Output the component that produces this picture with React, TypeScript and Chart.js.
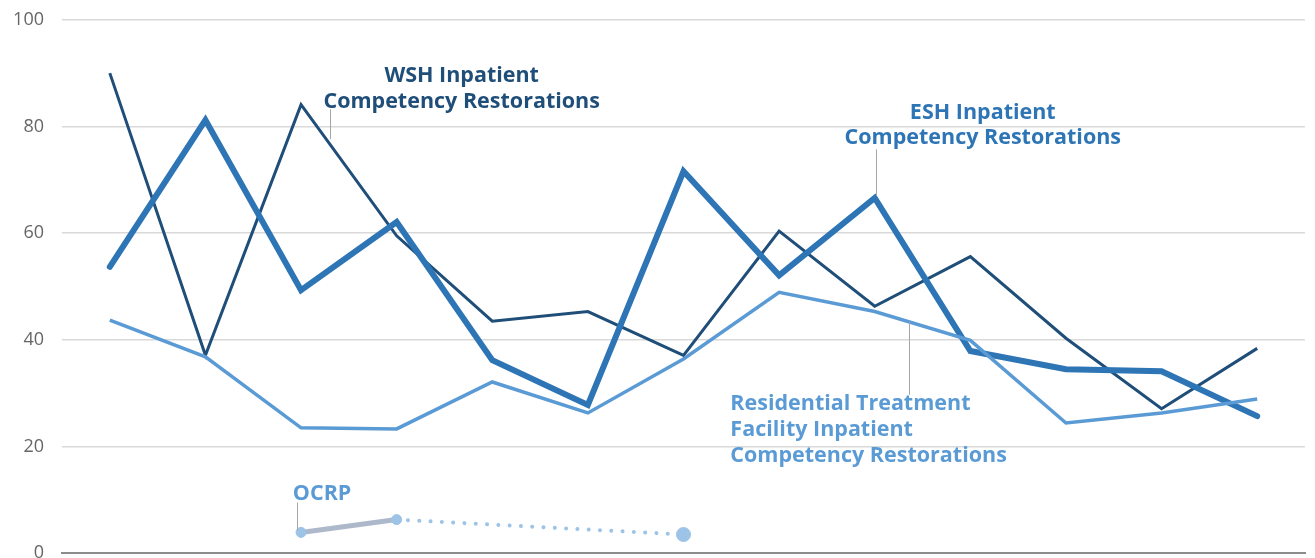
import React, { useEffect, useRef } from "react";
import { Chart, registerables } from "chart.js";

Chart.register(...registerables);

const categories = ["1", "2", "3", "4", "5", "6", "7", "8", "9", "10", "11", "12", "13"];
const wshValues = [90, 37.1, 84.1, 59.5, 43.5, 45.3, 37.1, 60.4, 46.3, 55.6, 40.3, 27.1, 38.4];
const eshValues = [53.7, 81.2, 49.3, 62.1, 36.2, 27.8, 71.6, 52.1, 66.6, 37.9, 34.5, 34.1, 25.7];
const rtfValues = [43.7, 36.8, 23.5, 23.3, 32.1, 26.3, 36.4, 48.9, 45.3, 39.9, 24.4, 26.3, 28.9];
const ocrpSolid = [null, null, 3.9, 6.3, null, null, null, null, null, null, null, null, null];
const ocrpDotted = [null, null, null, 6.3, null, null, 3.5, null, null, null, null, null, null];
const ocrpMarkers = [null, null, 3.9, 6.3, null, null, 3.5, null, null, null, null, null, null];
const ocrpMarkerSizes = [0, 0, 5, 5, 0, 0, 7, 0, 0, 0, 0, 0, 0];
const yTicks = [0, 20, 40, 60, 80, 100];

const FONT = "'Open Sans', Lato, sans-serif";

type Note = {
  lines: string[];
  color: string;
  align: CanvasTextAlign;
  x: number;
  ys: number[];
  leader: { x: number; y0: number; y1: number };
};

const notes: Note[] = [
  {
    lines: ["WSH Inpatient", "Competency Restorations"],
    color: "#1F4E79",
    align: "center",
    x: 3.68,
    ys: [89.4, 84.7],
    leader: { x: 2.3, y0: 83.2, y1: 77.6 },
  },
  {
    lines: ["ESH Inpatient", "Competency Restorations"],
    color: "#2E75B6",
    align: "center",
    x: 9.13,
    ys: [82.6, 77.8],
    leader: { x: 8.01, y0: 75.7, y1: 67.0 },
  },
  {
    lines: ["Residential Treatment", "Facility Inpatient", "Competency Restorations"],
    color: "#5B9BD5",
    align: "left",
    x: 6.49,
    ys: [28.0, 23.1, 18.3],
    leader: { x: 8.36, y0: 43.3, y1: 29.7 },
  },
  {
    lines: ["OCRP"],
    color: "#5B9BD5",
    align: "center",
    x: 2.22,
    ys: [11.2],
    leader: { x: 1.96, y0: 9.5, y1: 4.3 },
  },
];

const notesPlugin = {
  id: "notes",
  afterDatasetsDraw(chart: any) {
    const ctx = chart.ctx;
    const xs = chart.scales.x;
    const ys = chart.scales.y;
    const step = xs.getPixelForValue(1) - xs.getPixelForValue(0);
    const px = (v: number) => xs.getPixelForValue(0) + v * step;
    ctx.save();
    for (const n of notes) {
      ctx.strokeStyle = "#A6A6A6";
      ctx.lineWidth = 1;
      ctx.beginPath();
      ctx.moveTo(Math.round(px(n.leader.x)) + 0.5, ys.getPixelForValue(n.leader.y0));
      ctx.lineTo(Math.round(px(n.leader.x)) + 0.5, ys.getPixelForValue(n.leader.y1));
      ctx.stroke();
      ctx.fillStyle = n.color;
      ctx.font = `bold 21.5px ${FONT}`;
      ctx.textAlign = n.align;
      ctx.textBaseline = "middle";
      n.lines.forEach((t, i) => {
        ctx.fillText(t, px(n.x), ys.getPixelForValue(n.ys[i]));
      });
    }
    ctx.restore();
  },
};

export default function App() {
  const ref = useRef<HTMLCanvasElement | null>(null);
  useEffect(() => {
    if (!ref.current) return;
    const chart = new Chart(ref.current, {
      type: "line",
      data: {
        labels: categories,
        datasets: [
          {
            label: "OCRP markers",
            data: ocrpMarkers as any,
            showLine: false,
            pointRadius: ocrpMarkerSizes,
            pointHoverRadius: ocrpMarkerSizes,
            pointBackgroundColor: "#9DC3E6",
            pointBorderColor: "#9DC3E6",
            borderColor: "#9DC3E6",
          },
          {
            label: "OCRP projected",
            data: ocrpDotted as any,
            spanGaps: true,
            borderColor: "#9DC3E6",
            borderWidth: 4,
            borderDash: [0.01, 11.3],
            borderCapStyle: "round",
            pointRadius: 0,
            tension: 0,
          },
          {
            label: "OCRP",
            data: ocrpSolid as any,
            borderColor: "#ADB9CA",
            borderWidth: 5,
            pointRadius: 0,
            tension: 0,
          },
          {
            label: "Residential Treatment Facility Inpatient Competency Restorations",
            data: rtfValues,
            borderColor: "#5B9BD5",
            borderWidth: 3.5,
            pointRadius: 0,
            tension: 0,
          },
          {
            label: "ESH Inpatient Competency Restorations",
            data: eshValues,
            borderColor: "#2E75B6",
            borderWidth: 6,
            borderCapStyle: "round",
            pointRadius: 0,
            tension: 0,
          },
          {
            label: "WSH Inpatient Competency Restorations",
            data: wshValues,
            borderColor: "#1F4E79",
            borderWidth: 3,
            pointRadius: 0,
            tension: 0,
          },
        ],
      },
      options: {
        animation: false,
        responsive: false,
        maintainAspectRatio: false,
        layout: { padding: { top: 9, right: 10, bottom: 6, left: 0 } },
        plugins: {
          legend: { display: false },
          tooltip: { enabled: false },
        },
        scales: {
          x: {
            offset: true,
            grid: { display: false, drawTicks: false },
            border: { display: true, color: "#8C8C8C", width: 2 },
            ticks: { display: false },
          },
          y: {
            min: 0,
            max: 100,
            afterBuildTicks: (scale: any) => {
              scale.ticks = yTicks.map((v) => ({ value: v }));
            },
            afterFit: (scale: any) => {
              scale.width = 62;
            },
            grid: { color: "#D9D9D9", lineWidth: 1.5, drawTicks: false },
            border: { display: false },
            ticks: {
              padding: 18,
              color: "#666666",
              font: { family: FONT, size: 18 },
            },
          },
        },
      },
      plugins: [notesPlugin],
    });
    return () => chart.destroy();
  }, []);
  return (
    <div style={{ position: "absolute", left: 0, top: -9, width: 1315, height: 591 }}>
      <canvas ref={ref} width={1315} height={591} style={{ display: "block" }} />
    </div>
  );
}
